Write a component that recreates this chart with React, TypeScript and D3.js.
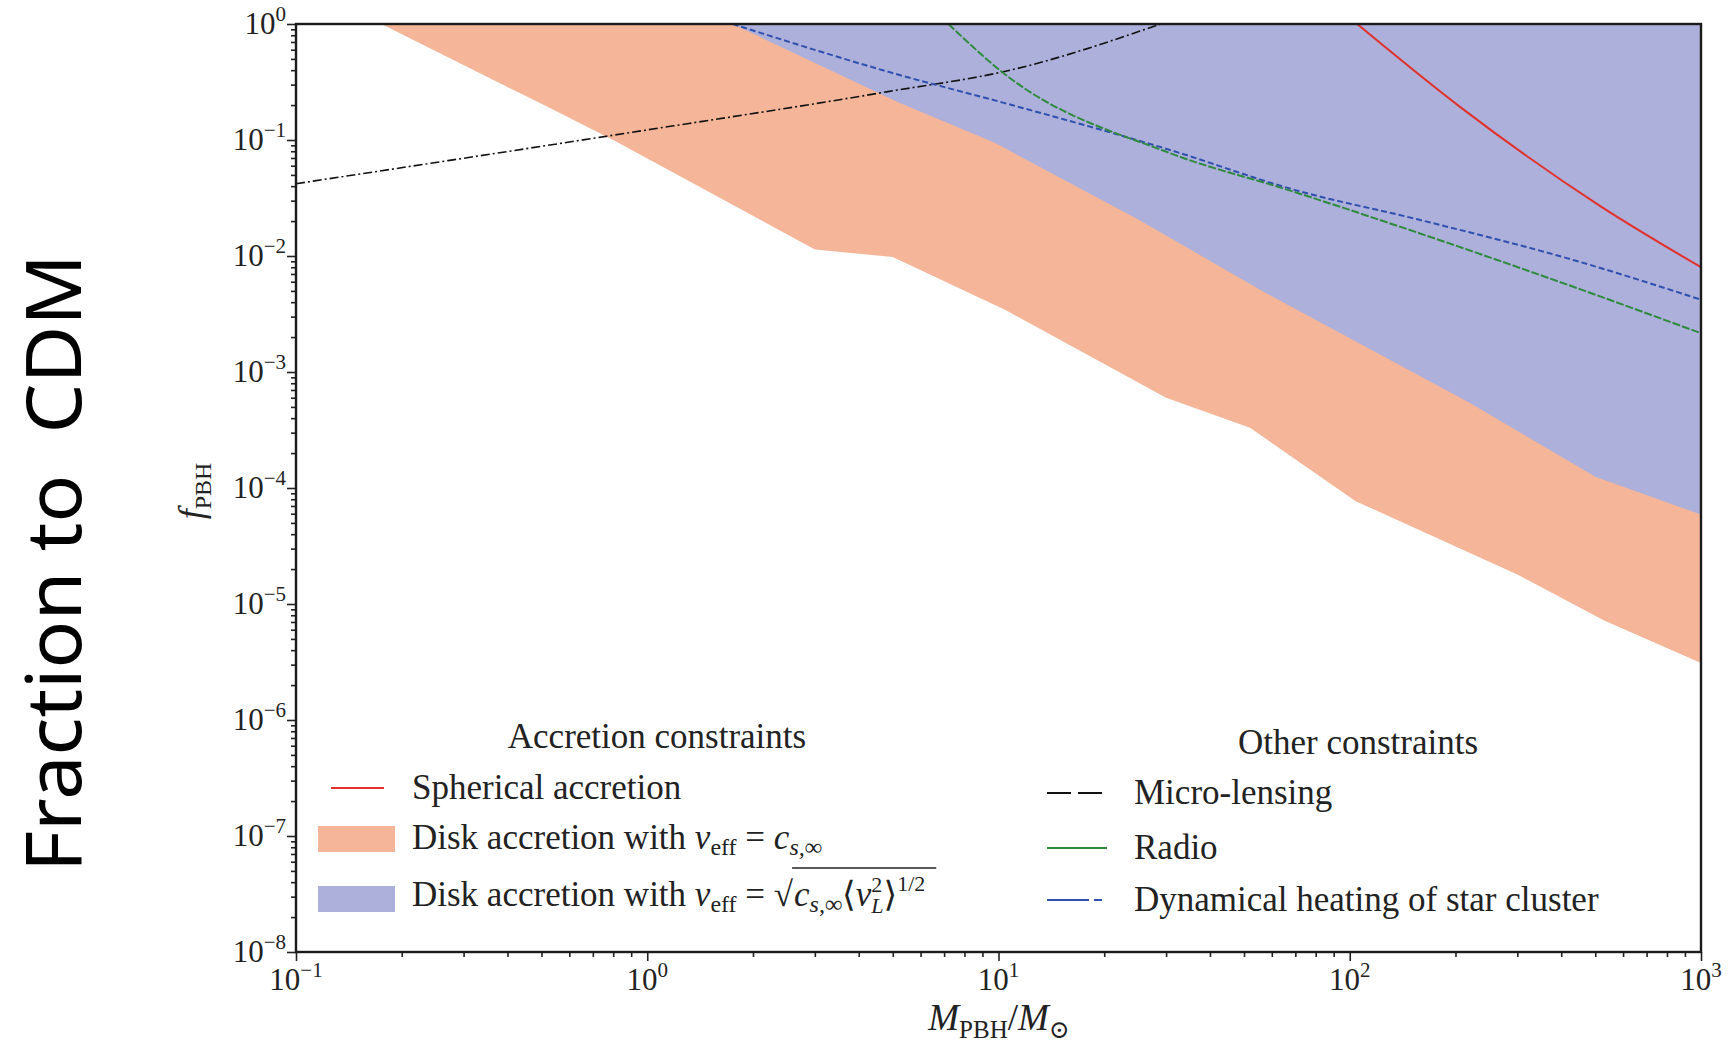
import * as d3 from "d3";
import { useEffect, useRef } from "react";

// x: PBH mass in solar masses, y: fraction of CDM
const massTicks = [0.1, 1, 10, 100, 1000];
const massTickExp = ["−1", "0", "1", "2", "3"];
const fracTicks = [1e-8, 1e-7, 1e-6, 1e-5, 1e-4, 1e-3, 1e-2, 1e-1, 1];
const fracTickExp = ["−8", "−7", "−6", "−5", "−4", "−3", "−2", "−1", "0"];

// disk accretion, v_eff = c_s (lower edge of the orange band)
const diskCsMass = [0.175, 0.5, 0.8, 3, 5, 10.5, 30, 52, 104, 300, 530, 1000];
const diskCsFrac = [1, 0.205, 0.1, 0.0114, 0.0098, 0.0034, 0.0006, 0.00033, 7.7e-5, 1.8e-5, 7.2e-6, 3.1e-6];

// disk accretion, v_eff = sqrt(c_s <v_L^2>^1/2) (lower edge of the blue band)
const diskVlMass = [1.75, 5.2, 9.8, 25, 57, 220, 500, 1000];
const diskVlFrac = [1, 0.21, 0.094, 0.0206, 0.0049, 0.00054, 1.25e-4, 5.9e-5];

const sphMass = [105, 206, 518, 1000];
const sphFrac = [1, 0.193, 0.0268, 0.008];

const radioMass = [7.2, 10.3, 30.8, 67, 157, 435, 1000];
const radioFrac = [1, 0.38, 0.077, 0.037, 0.0158, 0.0054, 0.00216];

const heatMass = [1.75, 5.2, 10.3, 30.8, 70, 157, 435, 1000];
const heatFrac = [1, 0.365, 0.21, 0.082, 0.037, 0.0206, 0.0092, 0.0042];

const lensMass = [0.1, 0.8, 4.8, 10.8, 29];
const lensFrac = [0.042, 0.11, 0.26, 0.4, 1];

const width = 1731,
    height = 1042;
const left = 296,
    right = 1701,
    top = 24,
    bottom = 952;

const serif = "'Liberation Serif', 'DejaVu Serif', serif";

type Part = { t: string; italic?: boolean; shift?: number; size?: number; dx?: number };

function rich(sel: any, parts: Part[]) {
    let cur = 0;
    parts.forEach((p) => {
        const shift = p.shift ?? 0;
        const ts = sel.append("tspan").text(p.t).attr("dy", shift - cur);
        cur = shift;
        if (p.size) ts.attr("font-size", p.size);
        if (p.italic) ts.attr("font-style", "italic");
        if (p.dx) ts.attr("dx", p.dx);
    });
}

export default function App() {
    const ref = useRef<SVGSVGElement>(null);

    useEffect(() => {
        const svg = d3.select(ref.current);
        svg.selectAll("*").remove();

        const x = d3.scaleLog().domain([0.1, 1000]).range([left, right]);
        const y = d3.scaleLog().domain([1e-8, 1]).range([bottom, top]);

        svg.append("defs")
            .append("clipPath")
            .attr("id", "plotclip")
            .append("rect")
            .attr("x", left)
            .attr("y", top)
            .attr("width", right - left)
            .attr("height", bottom - top);

        const plot = svg.append("g").attr("clip-path", "url(#plotclip)");

        const pts = (ms: number[], fs: number[]) => ms.map((m, i) => [m, fs[i]] as [number, number]);

        const band = d3.line<[number, number]>()
            .x((d) => x(d[0]))
            .y((d) => y(d[1]));

        const orange = [...pts(diskCsMass, diskCsFrac), [1000, 1] as [number, number]];
        plot.append("path")
            .attr("d", band(orange) + "Z")
            .attr("fill", "#f4b599");

        const blue = [...pts(diskVlMass, diskVlFrac), [1000, 1] as [number, number]];
        plot.append("path")
            .attr("d", band(blue) + "Z")
            .attr("fill", "#adb0da");

        const curve = d3.line<[number, number]>()
            .x((d) => x(d[0]))
            .y((d) => y(d[1]))
            .curve(d3.curveMonotoneX);

        plot.append("path")
            .attr("d", curve(pts(lensMass, lensFrac)))
            .attr("fill", "none")
            .attr("stroke", "#111")
            .attr("stroke-width", 1.6)
            .attr("stroke-dasharray", "9,3,2,3");

        plot.append("path")
            .attr("d", curve(pts(heatMass, heatFrac)))
            .attr("fill", "none")
            .attr("stroke", "#3050b0")
            .attr("stroke-width", 2)
            .attr("stroke-dasharray", "6,3");

        plot.append("path")
            .attr("d", curve(pts(radioMass, radioFrac)))
            .attr("fill", "none")
            .attr("stroke", "#2e8b3e")
            .attr("stroke-width", 2)
            .attr("stroke-dasharray", "8,2");

        plot.append("path")
            .attr("d", curve(pts(sphMass, sphFrac)))
            .attr("fill", "none")
            .attr("stroke", "#e2302a")
            .attr("stroke-width", 2);

        // axes
        const minor = (ticks: number[]) => {
            const out: number[] = [];
            ticks.slice(0, -1).forEach((d) => {
                for (let k = 2; k < 10; k++) out.push(d * k);
            });
            return out;
        };

        const styleAxis = (g: any) => {
            g.select(".domain").remove();
            g.selectAll("line").attr("stroke", "#222").attr("stroke-width", 1.6);
        };

        svg.append("g")
            .attr("transform", `translate(0,${bottom})`)
            .call(d3.axisBottom(x).tickValues(massTicks).tickSize(9).tickFormat(() => "") as any)
            .call(styleAxis);
        svg.append("g")
            .attr("transform", `translate(0,${bottom})`)
            .call(d3.axisBottom(x).tickValues(minor(massTicks)).tickSize(5).tickFormat(() => "") as any)
            .call(styleAxis);
        svg.append("g")
            .attr("transform", `translate(${left},0)`)
            .call(d3.axisLeft(y).tickValues(fracTicks).tickSize(9).tickFormat(() => "") as any)
            .call(styleAxis);
        svg.append("g")
            .attr("transform", `translate(${left},0)`)
            .call(d3.axisLeft(y).tickValues(minor(fracTicks)).tickSize(5).tickFormat(() => "") as any)
            .call(styleAxis);

        svg.append("rect")
            .attr("x", left)
            .attr("y", top)
            .attr("width", right - left)
            .attr("height", bottom - top)
            .attr("fill", "none")
            .attr("stroke", "#1a1a1a")
            .attr("stroke-width", 2.4);

        massTicks.forEach((m, i) => {
            const t = svg.append("text")
                .attr("x", x(m))
                .attr("y", 990)
                .attr("text-anchor", "middle")
                .attr("font-family", serif)
                .attr("font-size", 31)
                .attr("fill", "#222");
            rich(t, [{ t: "10" }, { t: massTickExp[i], size: 21, shift: -13 }]);
        });

        fracTicks.forEach((f, i) => {
            const t = svg.append("text")
                .attr("x", 286)
                .attr("y", y(f) + 10)
                .attr("text-anchor", "end")
                .attr("font-family", serif)
                .attr("font-size", 31)
                .attr("fill", "#222");
            rich(t, [{ t: "10" }, { t: fracTickExp[i], size: 21, shift: -13 }]);
        });

        // axis titles
        const xl = svg.append("text")
            .attr("x", 999)
            .attr("y", 1030)
            .attr("text-anchor", "middle")
            .attr("font-family", serif)
            .attr("font-size", 37)
            .attr("fill", "#222");
        rich(xl, [
            { t: "M", italic: true },
            { t: "PBH", size: 25, shift: 8 },
            { t: "/", shift: 0 },
            { t: "M", italic: true },
            { t: "⊙", size: 25, shift: 8 },
        ]);

        const yl = svg.append("text")
            .attr("transform", "translate(203,491) rotate(-90)")
            .attr("text-anchor", "middle")
            .attr("font-family", serif)
            .attr("font-size", 36)
            .attr("fill", "#222");
        rich(yl, [
            { t: "f", italic: true },
            { t: "PBH", size: 24, shift: 8 },
        ]);

        svg.append("text")
            .attr("transform", "translate(81,563) rotate(-90)")
            .attr("text-anchor", "middle")
            .attr("font-family", "'Noto Sans', 'Open Sans', sans-serif")
            .attr("font-size", 76)
            .attr("textLength", 618)
            .attr("lengthAdjust", "spacingAndGlyphs")
            .attr("fill", "#000")
            .style("white-space", "pre")
            .text("Fraction to  CDM");

        // legend
        const fs = 35;
        const leg = svg.append("g")
            .attr("font-family", serif)
            .attr("font-size", fs)
            .attr("fill", "#222");

        leg.append("text").attr("x", 657).attr("y", 748).attr("text-anchor", "middle").text("Accretion constraints");
        leg.append("text").attr("x", 1358).attr("y", 754).attr("text-anchor", "middle").text("Other constraints");

        leg.append("line")
            .attr("x1", 331).attr("x2", 384).attr("y1", 788).attr("y2", 788)
            .attr("stroke", "#e2302a").attr("stroke-width", 2);
        leg.append("text").attr("x", 412).attr("y", 799).text("Spherical accretion");

        leg.append("rect").attr("x", 318).attr("y", 826).attr("width", 77).attr("height", 26).attr("fill", "#f4b599");
        const t2 = leg.append("text").attr("x", 412).attr("y", 849);
        rich(t2, [
            { t: "Disk accretion with " },
            { t: "v", italic: true },
            { t: "eff", size: 24, shift: 6 },
            { t: " = ", shift: 0 },
            { t: "c", italic: true },
            { t: "s,∞", size: 24, shift: 6, italic: true },
        ]);

        leg.append("rect").attr("x", 318).attr("y", 886).attr("width", 77).attr("height", 26).attr("fill", "#adb0da");
        const t3 = leg.append("text").attr("x", 412).attr("y", 906);
        rich(t3, [
            { t: "Disk accretion with " },
            { t: "v", italic: true },
            { t: "eff", size: 24, shift: 6 },
            { t: " = √", shift: 0 },
        ]);
        const w3 = (t3.node() as SVGTextElement).getComputedTextLength();
        const r0 = 412 + w3 + 1;
        const t4 = leg.append("text").attr("x", r0).attr("y", 906);
        rich(t4, [
            { t: "c", italic: true },
            { t: "s,∞", size: 24, shift: 6, italic: true },
            { t: "⟨", shift: 0 },
            { t: "v", italic: true },
            { t: "2", size: 22, shift: -14 },
            { t: "L", size: 22, shift: 7, italic: true, dx: -11 },
            { t: "⟩", shift: 0 },
            { t: "1/2", size: 22, shift: -15 },
        ]);
        const w4 = (t4.node() as SVGTextElement).getComputedTextLength();
        leg.append("line")
            .attr("x1", r0 - 2).attr("x2", r0 + w4)
            .attr("y1", 868).attr("y2", 868)
            .attr("stroke", "#222").attr("stroke-width", 1.6);

        leg.append("line")
            .attr("x1", 1047).attr("x2", 1104).attr("y1", 793).attr("y2", 793)
            .attr("stroke", "#111").attr("stroke-width", 2).attr("stroke-dasharray", "24,7");
        leg.append("text").attr("x", 1134).attr("y", 804).text("Micro-lensing");

        leg.append("line")
            .attr("x1", 1047).attr("x2", 1107).attr("y1", 848).attr("y2", 848)
            .attr("stroke", "#2e8b3e").attr("stroke-width", 2);
        leg.append("text").attr("x", 1134).attr("y", 859).text("Radio");

        leg.append("line")
            .attr("x1", 1047).attr("x2", 1107).attr("y1", 900).attr("y2", 900)
            .attr("stroke", "#3050b0").attr("stroke-width", 2).attr("stroke-dasharray", "42,5,8,5");
        leg.append("text").attr("x", 1134).attr("y", 911).text("Dynamical heating of star cluster");
    }, []);

    return (
        <div style={{ position: "absolute", left: 0, top: 0 }}>
            <svg ref={ref} width={width} height={height} style={{ display: "block", background: "#fff" }}></svg>
        </div>
    );
}
